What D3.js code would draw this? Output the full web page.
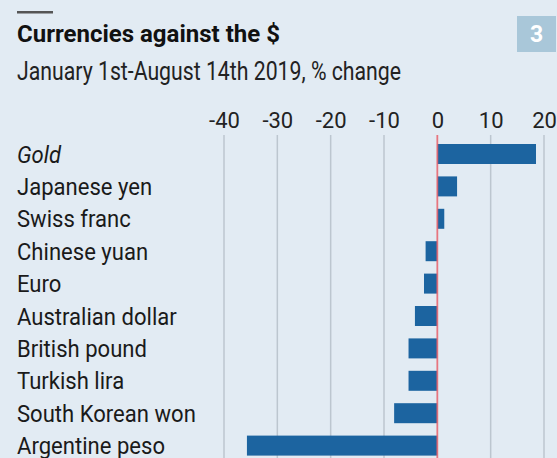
<!DOCTYPE html>
<html>
<head>
<meta charset="utf-8">
<script src="https://cdn.jsdelivr.net/npm/d3@7"></script>
<style>
  html, body { margin: 0; padding: 0; background: #e2ebf3; }
  svg { display: block; }
  text { font-family: Roboto, "Open Sans", sans-serif; }
</style>
</head>
<body>
<svg id="chart" width="557" height="458"></svg>
<script>
const categories = ["Gold", "Japanese yen", "Swiss franc", "Chinese yuan", "Euro",
  "Australian dollar", "British pound", "Turkish lira", "South Korean won", "Argentine peso"];
const values = [18.5, 3.7, 1.3, -2.2, -2.5, -4.2, -5.4, -5.4, -8.1, -35.7];
const tickValues = [-40, -30, -20, -10, 0, 10, 20];
const title = "Currencies against the $";
const subtitle = "January 1st-August 14th 2019, % change";
const badge = "3";

const W = 557, H = 458;
const svg = d3.select("#chart");

svg.append("rect").attr("width", W).attr("height", H).attr("fill", "#e2ebf3");

// top rule
svg.append("rect").attr("x", 17).attr("y", 11).attr("width", 36).attr("height", 2.5).attr("fill", "#555");

// badge
svg.append("rect").attr("x", 517).attr("y", 16).attr("width", 39).attr("height", 36).attr("fill", "#a9c7d9");
svg.append("text").attr("x", 536.5).attr("y", 42).attr("text-anchor", "middle")
  .attr("font-size", 23).attr("font-weight", "bold").attr("fill", "#fff").text(badge);

svg.append("text").attr("x", 17).attr("y", 42).attr("font-size", 24).attr("font-weight", "bold")
  .attr("fill", "#111").text(title);
svg.append("text").attr("transform", "translate(17,80) scale(0.85,1)").attr("font-size", 25)
  .attr("fill", "#222").text(subtitle);

const x = d3.scaleLinear().domain([-40, 20]).range([224, 544]);
const y = d3.scaleBand().domain(categories).range([137.8, 137.8 + 32.4 * categories.length])
  .paddingInner(0.383).paddingOuter(0.1915);

// gridlines
svg.append("g").selectAll("line").data(tickValues.filter(d => d !== 0)).join("line")
  .attr("x1", d => x(d)).attr("x2", d => x(d)).attr("y1", 135).attr("y2", H)
  .attr("stroke", "#bcc6cf").attr("stroke-width", 1.5);

// tick labels via axis
const axis = d3.axisTop(x).tickValues(tickValues).tickSize(0).tickPadding(0).tickFormat(d => String(d));
const ag = svg.append("g").attr("transform", "translate(0,128)").call(axis);
ag.select(".domain").remove();
ag.selectAll("text").attr("font-size", 22).attr("fill", "#222").attr("dy", 0)
  .attr("font-family", "Roboto, 'Open Sans', sans-serif");

// bars
svg.append("g").selectAll("rect").data(categories).join("rect")
  .attr("x", (d, i) => x(Math.min(0, values[i])))
  .attr("y", d => y(d))
  .attr("width", (d, i) => Math.abs(x(values[i]) - x(0)))
  .attr("height", y.bandwidth())
  .attr("fill", "#1c64a0");

// zero line
svg.append("line").attr("x1", x(0)).attr("x2", x(0)).attr("y1", 135).attr("y2", H)
  .attr("stroke", "#e8606a").attr("stroke-width", 1.8).attr("stroke-opacity", 0.85);

// category labels
svg.append("g").selectAll("text").data(categories).join("text")
  .attr("transform", d => `translate(17,${y(d) + y.bandwidth() / 2 + 8.5}) scale(0.92,1)`)
  .attr("font-size", 24).attr("fill", "#1a1a1a")
  .attr("font-style", d => d === "Gold" ? "italic" : "normal")
  .text(d => d);
</script>
</body>
</html>
